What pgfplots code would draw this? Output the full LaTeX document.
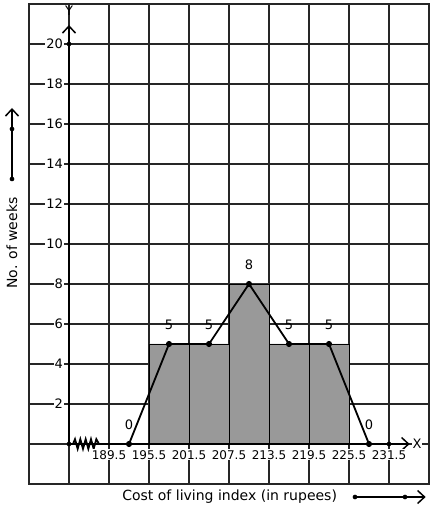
\documentclass[border=0pt]{standalone}
\usepackage{fontspec}
\setmainfont{DejaVu Sans}
\usepackage{pgfplots}
\pgfplotsset{compat=1.18}
\usetikzlibrary{arrows.meta}
\definecolor{bargray}{HTML}{999999}
\definecolor{gridc}{HTML}{262626}
\begin{document}
\begin{tikzpicture}[font=\fontsize{12}{14}\selectfont]
\useasboundingbox (-29pt,-26pt) rectangle (405pt,484pt);
\begin{axis}[
 at={(0,0)}, anchor=south west,
 scale only axis, width=400pt, height=480pt,
 xmin=177.5, xmax=237.5, ymin=-2, ymax=22,
 xtick={177.5,183.5,189.5,195.5,201.5,207.5,213.5,219.5,225.5,231.5,237.5},
 ytick={-2,0,2,4,6,8,10,12,14,16,18,20,22},
 xticklabels={}, yticklabels={},
 major tick length=0pt,
 grid=major, major grid style={gridc, line width=1.1pt},
 axis line style={gridc, line width=1.1pt},
 clip=false,
 /pgf/number format/assume math mode=true,
]
% histogram bars
\addplot[ybar interval, fill=bargray, draw=black, line width=0.9pt]
 coordinates {(195.5,5)(201.5,5)(207.5,8)(213.5,5)(219.5,5)(225.5,5)};
% axes
\addplot[black, line width=2.8pt, -{Straight Barb[length=7pt,width=13pt,line width=1.5pt]}]
 coordinates {(183.5,0)(234.6,0)};
\addplot[black, line width=2.8pt, -{Straight Barb[length=7pt,width=13pt,line width=1.5pt]}]
 coordinates {(183.5,0)(183.5,20.95)};
% zigzag (kink)
\addplot[black, line width=1.8pt]
 coordinates {(184.1,0)(184.4,0.24)(184.8,-0.24)(185.2,0.24)(185.6,-0.24)(186.0,0.24)(186.4,-0.24)(186.8,0.24)(187.2,-0.24)(187.6,0.24)(188.0,0)};
\addplot[only marks, mark=*, mark size=2.1pt, black]
 coordinates {(183.5,0)(231.5,0)(183.5,20)};
% frequency polygon
\addplot[black, line width=1.8pt, mark=*, mark size=2.1pt,
 nodes near coords, nodes near coords style={anchor=south, inner sep=0pt, yshift=13pt, font=\fontsize{13}{15}\selectfont}]
 coordinates {(192.5,0)(198.5,5)(204.5,5)(210.5,8)(216.5,5)(222.5,5)(228.5,0)};
% outer arrows
\addplot[black, line width=2pt, -{Straight Barb[length=7pt,width=13pt,line width=1.5pt]}]
 coordinates {(174.95,13.25)(174.95,16.8)};
\addplot[only marks, mark=*, mark size=2.1pt, black]
 coordinates {(174.95,13.25)(174.95,15.75)};
\addplot[black, line width=2pt, -{Straight Barb[length=7pt,width=13pt,line width=1.5pt]}]
 coordinates {(226.4,-2.65)(237.0,-2.65)};
\addplot[only marks, mark=*, mark size=2.1pt, black]
 coordinates {(226.4,-2.65)(233.9,-2.65)};
% tick labels
\pgfplotsinvokeforeach{2,4,6,8,10,12,14,16,18,20}{
 \node[anchor=east, fill=white, inner sep=1pt, xshift=-5pt, font=\fontsize{13}{15}\selectfont] at (axis cs:183.5,#1) {#1};
}
\pgfplotsinvokeforeach{189.5,195.5,201.5,207.5,213.5,219.5,225.5,231.5}{
 \node[anchor=north, fill=white, inner sep=1pt, yshift=-5pt] at (axis cs:#1,0) {#1};
}
\node[font=\fontsize{13}{15}\selectfont] at (axis cs:183.5,21.65) {Y};
\node[fill=white, inner sep=1pt, font=\fontsize{13}{15}\selectfont] at (axis cs:235.7,0) {X};
\node[rotate=90, font=\fontsize{14}{16}\selectfont] at (axis cs:174.95,10.05) {No. of weeks};
\node[font=\fontsize{14}{16}\selectfont] at (axis cs:207.6,-2.65) {Cost of living index (in rupees)};
\end{axis}
\end{tikzpicture}
\end{document}
